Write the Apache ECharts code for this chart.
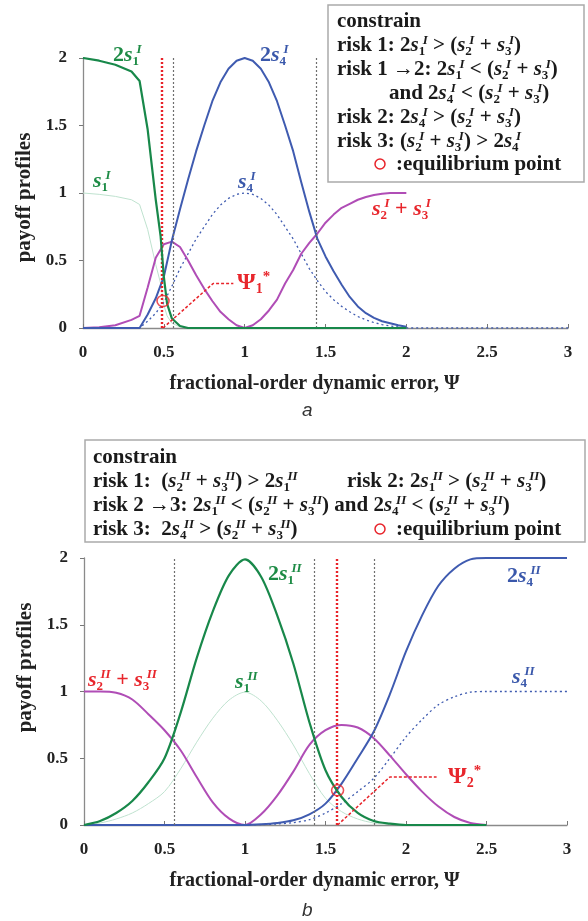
<!DOCTYPE html>
<html><head><meta charset="utf-8">
<script src="https://cdn.jsdelivr.net/npm/echarts@6/dist/echarts.min.js"></script>
<style>html,body{margin:0;padding:0;background:#fff}#c{width:588px;height:921px}</style>
</head><body><div id="c"></div>
<script>
// ---------------- tick labels ----------------
const xTicks = [0, 0.5, 1, 1.5, 2, 2.5, 3];
const yTicks = [0, 0.5, 1, 1.5, 2];

// ---------------- panel a ----------------
const a_x_2s1 = [0, 0.1, 0.2, 0.3, 0.35, 0.4, 0.45, 0.48, 0.5, 0.52, 0.55, 0.6, 0.65, 2];
const a_y_2s1 = [2.0, 1.98, 1.95, 1.9, 1.83, 1.47, 0.95, 0.68, 0.38, 0.18, 0.07, 0.015, 0, 0];
const a_y_s1  = [1.0, 0.99, 0.975, 0.95, 0.915, 0.73, 0.47, 0.33, 0.17, 0.09, 0.035, 0.008, 0, 0];

const a_x_2s4 = [0, 0.35, 0.4, 0.45, 0.5, 0.55, 0.6, 0.65, 0.7, 0.75, 0.8, 0.85, 0.9, 0.95, 1.0,
                 1.05, 1.1, 1.15, 1.2, 1.25, 1.3, 1.35, 1.4, 1.45, 1.5, 1.55, 1.6, 1.65, 1.7, 1.75,
                 1.8, 1.85, 1.9, 1.95, 2.0];
const a_y_2s4 = [0, 0, 0.1, 0.22, 0.38, 0.65, 0.88, 1.1, 1.31, 1.5, 1.68, 1.82, 1.92, 1.98, 2.0,
                 1.98, 1.92, 1.82, 1.68, 1.5, 1.31, 1.08, 0.86, 0.66, 0.53, 0.42, 0.32, 0.23, 0.16, 0.11,
                 0.075, 0.05, 0.035, 0.02, 0.01];
const a_x_s4  = [0, 0.35, 0.4, 0.45, 0.5, 0.55, 0.6, 0.65, 0.7, 0.75, 0.8, 0.85, 0.9, 0.95, 1.0,
                 1.05, 1.1, 1.15, 1.2, 1.25, 1.3, 1.35, 1.4, 1.45, 1.5, 1.55, 1.6, 1.65, 1.7, 1.75,
                 1.8, 1.85, 1.9, 1.95, 2.0, 3.0];
const a_y_s4  = [0, 0, 0.05, 0.11, 0.19, 0.31, 0.44, 0.55, 0.66, 0.75, 0.84, 0.91, 0.96, 0.99, 1.0,
                 0.99, 0.96, 0.91, 0.84, 0.75, 0.66, 0.55, 0.44, 0.35, 0.27, 0.21, 0.16, 0.12, 0.085, 0.06,
                 0.04, 0.025, 0.015, 0.008, 0, 0];
const a_x_s23 = [0, 0.1, 0.2, 0.3, 0.35, 0.4, 0.45, 0.5, 0.55, 0.6, 0.65, 0.7, 0.75, 0.8, 0.85, 0.9,
                 0.95, 1.0, 1.05, 1.1, 1.15, 1.2, 1.25, 1.3, 1.35, 1.4, 1.45, 1.5, 1.55, 1.6, 1.65,
                 1.7, 1.75, 1.8, 1.85, 1.9, 1.95, 2.0];
const a_y_s23 = [0, 0.005, 0.02, 0.06, 0.09, 0.3, 0.52, 0.62, 0.64, 0.6, 0.5, 0.39, 0.29, 0.2, 0.12, 0.065,
                 0.02, 0, 0.02, 0.065, 0.13, 0.21, 0.33, 0.43, 0.55, 0.63, 0.7, 0.78, 0.84, 0.89, 0.92,
                 0.95, 0.97, 0.985, 0.995, 1.0, 1.0, 1.0];
const a_grayLines = [0.56, 1.44];
const a_eqX = 0.495, a_eqY = 0.2;
const a_leaderX = [0.495, 0.805, 0.93];
const a_leaderY = [0, 0.33, 0.33];

// ---------------- panel b ----------------
const b_x     = [0, 0.1, 0.2, 0.3, 0.4, 0.5, 0.6, 0.7, 0.8, 0.9, 1.0, 1.1, 1.2, 1.3, 1.4, 1.5, 1.6, 1.7,
                 1.8, 1.9, 2.0, 2.1, 2.2, 2.3, 2.4, 2.5];
const b_y_2s1 = [0, 0.03, 0.09, 0.18, 0.32, 0.5, 0.84, 1.25, 1.6, 1.87, 1.99, 1.86, 1.57, 1.21, 0.77, 0.41,
                 0.21, 0.09, 0.03, 0.01, 0, 0, 0, 0, 0, 0];
const b_y_s1  = [0, 0.015, 0.045, 0.09, 0.16, 0.25, 0.42, 0.62, 0.8, 0.935, 0.995, 0.93, 0.785, 0.6, 0.385, 0.2,
                 0.1, 0.045, 0.015, 0.005, 0, 0, 0, 0, 0, 0];
const b_y_s23 = [1.0, 1.0, 0.99, 0.94, 0.83, 0.71, 0.56, 0.36, 0.17, 0.05, 0, 0.08, 0.22, 0.4, 0.6, 0.71,
                 0.75, 0.73, 0.65, 0.52, 0.38, 0.25, 0.14, 0.06, 0.015, 0];
const b_x_s4  = [0, 0.1, 0.2, 0.3, 0.4, 0.5, 0.6, 0.7, 0.8, 0.9, 1.0, 1.1, 1.2, 1.3, 1.4, 1.5, 1.6, 1.7,
                 1.8, 1.9, 2.0, 2.1, 2.2, 2.3, 2.4, 2.5, 2.6, 2.7, 2.8, 2.9, 3.0];
const b_y_2s4 = [0, 0, 0, 0, 0, 0, 0, 0, 0, 0, 0, 0.005, 0.015, 0.035, 0.08, 0.16, 0.31, 0.5,
                 0.7, 0.98, 1.3, 1.57, 1.79, 1.92, 1.99, 2.0, 2.0, 2.0, 2.0, 2.0, 2.0];
const b_y_s4  = [0, 0, 0, 0, 0, 0, 0, 0, 0, 0, 0, 0.003, 0.008, 0.018, 0.04, 0.09, 0.16, 0.25,
                 0.35, 0.5, 0.66, 0.79, 0.9, 0.96, 0.995, 1.0, 1.0, 1.0, 1.0, 1.0, 1.0];
const b_grayLines = [0.555, 1.43, 1.80];
const b_eqX = 1.575, b_eqY = 0.26;
const b_leaderX = [1.575, 1.90, 2.19];
const b_leaderY = [0, 0.36, 0.36];

// ---------------- styling ----------------
const F = "'Liberation Serif', 'Times New Roman', serif";
const GREEN = '#18884a', LGREEN = '#bfe2cf', BLUE = '#3f5bb0', MAG = '#b04db6',
      RED = '#e8232a', GRAY = '#6e6e6e';
const LGREEN_T = '#1d8b45', BLUE_T = '#3a58ab', RED_T = '#e8262c', INK = '#1a1a1a';

const pairs = (xs, ys) => xs.map((x, i) => [x, ys[i]]);

function rich(size, color) {
  const sub = Math.round(size * 0.6);
  const LH = Math.round(size * 1.18);
  return {
    n: {fontFamily: F, fontWeight: 'bold', fontSize: size, color, lineHeight: LH},
    i: {fontFamily: F, fontWeight: 'bold', fontStyle: 'italic', fontSize: size, color, lineHeight: LH},
    b: {fontFamily: F, fontWeight: 'bold', fontSize: sub, color, height: sub, verticalAlign: 'bottom', width: Math.round(sub * 0.3)},
    p: {fontFamily: F, fontWeight: 'bold', fontStyle: 'italic', fontSize: sub, color, height: sub + 2, verticalAlign: 'top'},
    q: {fontFamily: F, fontWeight: 'bold', fontSize: sub + 2, color, height: sub + 2, verticalAlign: 'top'},
    g: {fontFamily: F, fontWeight: 'bold', fontSize: size + 2, color, lineHeight: LH},
    gb: {fontFamily: F, fontWeight: 'bold', fontSize: sub + 1, color, height: sub + 1, verticalAlign: 'bottom'}
  };
}
function txt(left, cy, text, size, color) {
  const LH = Math.round(size * 1.18);
  return {left, top: Math.round(cy - LH / 2), text, padding: 0, itemGap: 0,
    textStyle: {rich: rich(size, color), fontFamily: F, fontSize: size, fontWeight: 'bold', color, lineHeight: LH}};
}
const S = (sub, sup) => `{i|s}{b|${sub}}{p|${sup}}`;

const BS = 21; // box text size
const titles = [
  // legend box a
  txt(337, 21, '{n|constrain}', BS, INK),
  txt(337, 45, `{n|risk 1: 2}${S(1,'I')}{n| > (}${S(2,'I')}{n| + }${S(3,'I')}{n|)}`, BS, INK),
  txt(337, 69, `{n|risk 1 →2: 2}${S(1,'I')}{n| < (}${S(2,'I')}{n| + }${S(3,'I')}{n|)}`, BS, INK),
  txt(389, 93, `{n|and 2}${S(4,'I')}{n| < (}${S(2,'I')}{n| + }${S(3,'I')}{n|)}`, BS, INK),
  txt(337, 117, `{n|risk 2: 2}${S(4,'I')}{n| > (}${S(2,'I')}{n| + }${S(3,'I')}{n|)}`, BS, INK),
  txt(337, 141, `{n|risk 3: (}${S(2,'I')}{n| + }${S(3,'I')}{n|) > 2}${S(4,'I')}`, BS, INK),
  txt(396, 164, '{n|:equilibrium point}', BS, INK),
  // legend box b
  txt(93, 457, '{n|constrain}', BS, INK),
  txt(93, 481, `{n|risk 1:  (}${S(2,'II')}{n| + }${S(3,'II')}{n|) > 2}${S(1,'II')}`, BS, INK),
  txt(347, 481, `{n|risk 2: 2}${S(1,'II')}{n| > (}${S(2,'II')}{n| + }${S(3,'II')}{n|)}`, BS, INK),
  txt(93, 505, `{n|risk 2 →3: 2}${S(1,'II')}{n| < (}${S(2,'II')}{n| + }${S(3,'II')}{n|) and 2}${S(4,'II')}{n| < (}${S(2,'II')}{n| + }${S(3,'II')}{n|)}`, BS, INK),
  txt(93, 529, `{n|risk 3:  2}${S(4,'II')}{n| > (}${S(2,'II')}{n| + }${S(3,'II')}{n|)}`, BS, INK),
  txt(396, 529, '{n|:equilibrium point}', BS, INK),
  // curve labels a
  txt(113, 55, `{n|2}${S(1,'I')}`, 22, LGREEN_T),
  txt(260, 55, `{n|2}${S(4,'I')}`, 22, BLUE_T),
  txt(93, 181, `${S(1,'I')}`, 22, LGREEN_T),
  txt(238, 182, `${S(4,'I')}`, 22, BLUE_T),
  txt(372, 209, `${S(2,'I')}{n| + }${S(3,'I')}`, 22, RED_T),
  txt(237, 283, `{g|Ψ}{gb|1}{q|*}`, 22, RED_T),
  // curve labels b
  txt(268, 574, `{n|2}${S(1,'II')}`, 22, LGREEN_T),
  txt(88, 680, `${S(2,'II')}{n| + }${S(3,'II')}`, 22, RED_T),
  txt(235, 682, `${S(1,'II')}`, 22, LGREEN_T),
  txt(507, 576, `{n|2}${S(4,'II')}`, 22, BLUE_T),
  txt(512, 677, `${S(4,'II')}`, 22, BLUE_T),
  txt(448, 777, `{g|Ψ}{gb|2}{q|*}`, 22, RED_T),
  // captions
  {left: 302, top: 401, text: 'a', padding: 0, textStyle: {fontFamily: "'Liberation Sans', Arial, sans-serif", fontStyle: 'italic', fontWeight: 'normal', fontSize: 19, color: '#333'}},
  {left: 302, top: 901, text: 'b', padding: 0, textStyle: {fontFamily: "'Liberation Sans', Arial, sans-serif", fontStyle: 'italic', fontWeight: 'normal', fontSize: 19, color: '#333'}}
];

const xStep = xTicks[1] - xTicks[0];
const yStep = yTicks[1] - yTicks[0];
function xAx(gi, namePad) {
  return {type: 'value', gridIndex: gi, min: xTicks[0], max: xTicks[xTicks.length - 1], interval: xStep,
    axisLine: {lineStyle: {color: '#8a8a8a', width: 1.3}},
    axisTick: {inside: true, length: 4, lineStyle: {color: '#777'}},
    splitLine: {show: false},
    axisLabel: {fontFamily: F, fontWeight: 'bold', fontSize: 17, color: '#222', margin: 16},
    name: 'fractional-order dynamic error, Ψ', nameLocation: 'middle', nameGap: 46,
    nameTextStyle: {fontFamily: F, fontWeight: 'bold', fontSize: 20, color: '#222', padding: namePad}};
}
function yAx(gi, namePad) {
  return {type: 'value', gridIndex: gi, min: yTicks[0], max: yTicks[yTicks.length - 1], interval: yStep,
    axisLine: {show: true, lineStyle: {color: '#8a8a8a', width: 1.3}},
    axisTick: {show: true, inside: false, length: 4, lineStyle: {color: '#777'}},
    splitLine: {show: false},
    axisLabel: {fontFamily: F, fontWeight: 'bold', fontSize: 17, color: '#222', margin: 16},
    name: 'payoff profiles', nameLocation: 'middle', nameGap: 47,
    nameTextStyle: {fontFamily: F, fontWeight: 'bold', fontSize: 21, color: '#222', padding: namePad}};
}

function ln(gi, xs, ys, color, width, type, smooth, z) {
  return {type: 'line', xAxisIndex: gi, yAxisIndex: gi, data: pairs(xs, ys), showSymbol: false,
    smooth: smooth, silent: true, z: z,
    lineStyle: {color, width, type: type || 'solid'}};
}
function annot(gi, lx, ly, grays, eqX, eqY) {
  return [
    {type: 'line', xAxisIndex: gi, yAxisIndex: gi, data: pairs(lx, ly), showSymbol: false, silent: true, z: 6,
      lineStyle: {color: RED, width: 1.5, type: [3, 2]},
      markLine: {silent: true, symbol: 'none', label: {show: false},
        data: grays.map(v => ({xAxis: v, lineStyle: {color: GRAY, width: 1.2, type: [2, 2]}}))
          .concat([{xAxis: eqX, lineStyle: {color: RED, width: 2.4, type: [2, 2]}}])}},
    {type: 'scatter', xAxisIndex: gi, yAxisIndex: gi, data: [[eqX, eqY]], symbol: 'circle', symbolSize: [12, 11],
      silent: true, z: 7, itemStyle: {color: 'rgba(0,0,0,0)', borderColor: RED, borderWidth: 1.5}}
  ];
}

const SM = 0.3;
const series = [
  ln(0, a_x_2s1, a_y_s1, LGREEN, 1, 'solid', false, 2),
  ln(0, a_x_s4, a_y_s4, BLUE, 1.3, [2, 3], false, 2),
  ln(0, a_x_s23, a_y_s23, MAG, 2, 'solid', false, 3),
  ln(0, a_x_2s4, a_y_2s4, BLUE, 2, 'solid', false, 4),
  ln(0, a_x_2s1, a_y_2s1, GREEN, 2.2, 'solid', false, 5),
  ...annot(0, a_leaderX, a_leaderY, a_grayLines, a_eqX, a_eqY),
  ln(1, b_x, b_y_s1, LGREEN, 1, 'solid', SM, 2),
  ln(1, b_x_s4, b_y_s4, BLUE, 1.3, [2, 3], SM, 2),
  ln(1, b_x, b_y_s23, MAG, 2, 'solid', SM, 3),
  ln(1, b_x_s4, b_y_2s4, BLUE, 2, 'solid', SM, 4),
  ln(1, b_x, b_y_2s1, GREEN, 2.2, 'solid', SM, 5),
  ...annot(1, b_leaderX, b_leaderY, b_grayLines, b_eqX, b_eqY)
];

const graphic = [
  {type: 'rect', z: 5, shape: {x: 328, y: 5, width: 256, height: 177}, style: {fill: '#fff', stroke: '#aaa', lineWidth: 1.5}},
  {type: 'rect', z: 5, shape: {x: 85, y: 440, width: 500, height: 102}, style: {fill: '#fff', stroke: '#aaa', lineWidth: 1.5}},
  {type: 'circle', z: 10, shape: {cx: 380, cy: 164, r: 5}, style: {fill: 'none', stroke: RED, lineWidth: 1.5}},
  {type: 'circle', z: 10, shape: {cx: 380, cy: 529, r: 5}, style: {fill: 'none', stroke: RED, lineWidth: 1.5}}
];

const chart = echarts.init(document.getElementById('c'), null, {renderer: 'canvas'});
chart.setOption({
  animation: false,
  backgroundColor: '#fff',
  title: titles,
  graphic: graphic,
  grid: [
    {left: 83, top: 58, width: 485, height: 270},
    {left: 84, top: 558, width: 483, height: 267}
  ],
  xAxis: [xAx(0, [0, 22, 0, 0]), xAx(1, [0, 22, 0, 0])],
  yAxis: [yAx(0, [0, 9, 0, 0]), yAx(1, [0, 0, 0, 48])],
  series: series
});
</script></body></html>
